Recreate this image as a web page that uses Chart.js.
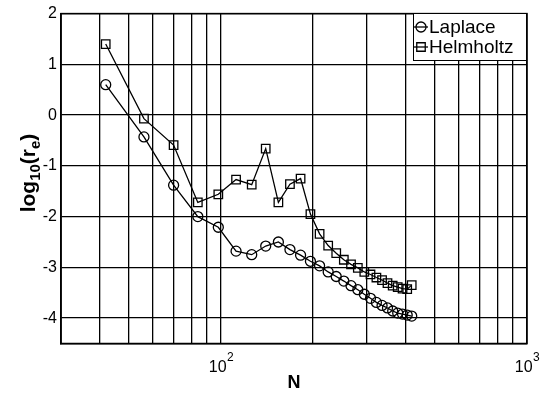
<!DOCTYPE html>
<html>
<head>
<meta charset="utf-8">
<script src="https://cdn.jsdelivr.net/npm/chart.js@4.4.0/dist/chart.umd.min.js"></script>
<style>
  html, body { margin: 0; padding: 0; background: #fff; }
</style>
</head>
<body>
<canvas id="errChart" width="555" height="396"></canvas>
<script>
// ----------- data -----------
const nValues = [42, 56, 70, 84, 98, 112, 126, 140, 154, 168, 182, 196, 210, 224,
                 238, 252, 266, 280, 294, 308, 322, 336, 350, 364, 378, 392, 406, 420];

const laplace = [0.60, -0.43, -1.38, -2.00, -2.21, -2.68, -2.75, -2.58, -2.50, -2.65,
                 -2.76, -2.88, -2.97, -3.09, -3.18, -3.27, -3.36, -3.44, -3.53, -3.61,
                 -3.69, -3.75, -3.80, -3.86, -3.90, -3.92, -3.94, -3.96];

const helmholtz = [1.40, -0.07, -0.59, -1.72, -1.56, -1.27, -1.37, -0.66, -1.72, -1.36,
                   -1.25, -1.95, -2.34, -2.57, -2.72, -2.85, -2.94, -3.01, -3.09, -3.14,
                   -3.20, -3.25, -3.31, -3.36, -3.39, -3.42, -3.43, -3.35];

const xTicks = [30, 40, 50, 60, 70, 80, 90, 100, 200, 300, 400, 500, 600, 700, 800, 900, 1000];
const xDecades = [{ value: 100, exp: '2' }, { value: 1000, exp: '3' }];
const yTicks = [2, 1, 0, -1, -2, -3, -4];

const seriesNames = ['Laplace', 'Helmholtz'];
const FONT = 'Liberation Sans, Arial, sans-serif';

// gộp N với giá trị log10
function toPoints(vals) {
    return nValues.map((n, i) => ({ x: n, y: vals[i] }));
}

// ----------- plugin: khung, nhãn 10^n, tiêu đề trục, chú thích -----------
const decorPlugin = {
    id: 'decor',
    afterDraw(chart) {
        const ctx = chart.ctx;
        const a = chart.chartArea;
        ctx.save();

        // khung bao quanh
        ctx.strokeStyle = '#000';
        ctx.lineWidth = 1.5;
        ctx.strokeRect(a.left, a.top, a.right - a.left, a.bottom - a.top);

        // nhãn trục x dạng 10 mũ n
        ctx.fillStyle = '#000';
        ctx.textAlign = 'left';
        ctx.textBaseline = 'alphabetic';
        const xs = chart.scales.x;
        xDecades.forEach(d => {
            const px = xs.getPixelForValue(d.value);
            ctx.font = '16px ' + FONT;
            const wBase = ctx.measureText('10').width;
            ctx.font = '12px ' + FONT;
            const wExp = ctx.measureText(d.exp).width;
            const left = px - (wBase + wExp) / 2;
            ctx.font = '16px ' + FONT;
            ctx.fillText('10', left, 372);
            ctx.font = '12px ' + FONT;
            ctx.fillText(d.exp, left + wBase + 0.5, 361);
        });

        // tiêu đề trục x
        ctx.font = 'bold 18px ' + FONT;
        ctx.textAlign = 'center';
        ctx.textBaseline = 'middle';
        ctx.fillText('N', (a.left + a.right) / 2, 383);

        // tiêu đề trục y: log10(re) với chỉ số dưới
        const parts = [
            { t: 'log', size: 21, dy: 0 },
            { t: '10', size: 15, dy: 5 },
            { t: '(r', size: 21, dy: 0 },
            { t: 'e', size: 15, dy: 5 },
            { t: ')', size: 21, dy: 0 }
        ];
        let total = 0;
        parts.forEach(p => {
            ctx.font = 'bold ' + p.size + 'px ' + FONT;
            p.w = ctx.measureText(p.t).width;
            total += p.w;
        });
        ctx.translate(35, 173);
        ctx.rotate(-Math.PI / 2);
        ctx.textAlign = 'left';
        ctx.textBaseline = 'alphabetic';
        let cx = -total / 2;
        parts.forEach(p => {
            ctx.font = 'bold ' + p.size + 'px ' + FONT;
            ctx.fillText(p.t, cx, p.dy);
            cx += p.w;
        });
        ctx.setTransform(1, 0, 0, 1, 0, 0);

        // chú thích
        const bx = 413, by = 13, bw = a.right - bx, bh = 48;
        ctx.fillStyle = '#fff';
        ctx.fillRect(bx, by, bw, bh);
        ctx.strokeStyle = '#000';
        ctx.lineWidth = 1;
        ctx.strokeRect(bx + 0.5, by + 0.5, bw - 1, bh - 1);

        ctx.font = '19px ' + FONT;
        ctx.textAlign = 'left';
        ctx.textBaseline = 'middle';
        const rows = [27, 47];
        chart.data.datasets.forEach((ds, i) => {
            const y = rows[i];
            ctx.strokeStyle = '#000';
            ctx.lineWidth = 1.3;
            ctx.beginPath();
            ctx.moveTo(414, y);
            ctx.lineTo(428, y);
            ctx.stroke();
            // marker rỗng, không tô nền
            ctx.fillStyle = 'rgba(0,0,0,0)';
            Chart.helpers.drawPoint(ctx, {
                pointStyle: ds.pointStyle,
                radius: ds.pointRadius,
                rotation: 0,
                borderWidth: 1.3
            }, 421, y);
            ctx.fillStyle = '#000';
            ctx.fillText(seriesNames[i], 429, y + 1);
        });

        ctx.restore();
    }
};

// ----------- vẽ biểu đồ -----------
const ctx = document.getElementById('errChart').getContext('2d');

new Chart(ctx, {
    type: 'line',
    data: {
        datasets: [
            {
                label: seriesNames[0],
                data: toPoints(laplace),
                borderColor: '#000',
                borderWidth: 1.3,
                pointStyle: 'circle',
                pointRadius: 5,
                pointBorderWidth: 1.3,
                pointBorderColor: '#000',
                pointBackgroundColor: 'rgba(0,0,0,0)'
            },
            {
                label: seriesNames[1],
                data: toPoints(helmholtz),
                borderColor: '#000',
                borderWidth: 1.3,
                pointStyle: 'rect',
                pointRadius: 6,
                pointBorderWidth: 1.3,
                pointBorderColor: '#000',
                pointBackgroundColor: 'rgba(0,0,0,0)'
            }
        ]
    },
    options: {
        responsive: false,
        devicePixelRatio: 1,
        animation: false,
        layout: { padding: { top: 12, right: 28, left: 0, bottom: 0 } },
        plugins: {
            legend: { display: false },
            tooltip: { enabled: false }
        },
        scales: {
            x: {
                type: 'logarithmic',
                min: 30,
                max: 1000,
                afterBuildTicks: s => { s.ticks = xTicks.map(v => ({ value: v })); },
                afterFit: s => { s.height = 52.5; },
                ticks: {
                    autoSkip: false,
                    maxRotation: 0,
                    padding: 6,
                    color: '#000',
                    font: { family: FONT, size: 16 },
                    callback: () => ''   // nhãn 10^n vẽ trong plugin
                },
                grid: { color: '#000', lineWidth: 1.3, drawTicks: false },
                border: { color: '#000', width: 1.5 }
            },
            y: {
                type: 'linear',
                min: -4.5,
                max: 2,
                afterBuildTicks: s => { s.ticks = yTicks.map(v => ({ value: v })); },
                afterFit: s => { s.width = 61; },
                ticks: {
                    padding: 4,
                    color: '#000',
                    font: { family: FONT, size: 16 },
                    callback: v => String(v)
                },
                grid: { color: '#000', lineWidth: 1.3, drawTicks: false },
                border: { color: '#000', width: 1.5 }
            }
        }
    },
    plugins: [decorPlugin]
});
</script>
</body>
</html>
